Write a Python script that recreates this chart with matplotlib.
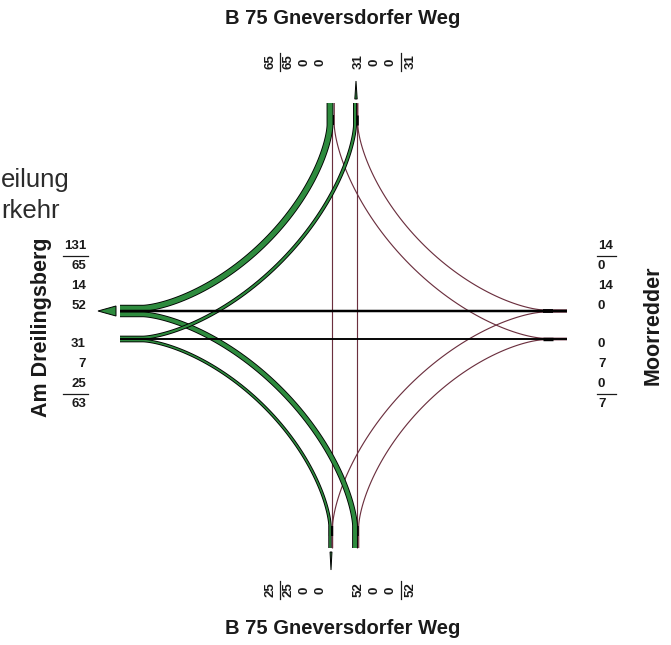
import numpy as np
import matplotlib.pyplot as plt

plt.rcParams['font.family'] = ['Liberation Sans', 'DejaVu Sans']

# Knotenstroeme [Kfz]: von -> nach  (W = Am Dreilingsberg, O = Moorredder, N/S = B 75)
flow_from = ['N', 'O', 'S', 'W', 'W', 'W', 'N', 'N', 'S', 'S', 'O', 'O']
flow_to = ['W', 'W', 'W', 'N', 'O', 'S', 'S', 'O', 'N', 'O', 'N', 'S']
flow_val = [65, 14, 52, 31, 7, 25, 0, 0, 0, 0, 0, 0]

title_ns = 'B 75 Gneversdorfer Weg'
name_w = 'Am Dreilingsberg'
name_o = 'Moorredder'
header_lines = ['eilung', 'rkehr']   # visible remainder of the cut-off heading

# lane geometry in canvas pixels: kind, lane position, outer end, inner end of stub
LANE = {
    ('W', 'out'): ('h', 311, 120, 143),
    ('W', 'in'): ('h', 339, 120, 143),
    ('O', 'in'): ('h', 311, 567, 543),
    ('O', 'out'): ('h', 339, 567, 543),
    ('N', 'in'): ('v', 331, 103, 125),
    ('N', 'out'): ('v', 356, 103, 125),
    ('S', 'out'): ('v', 331, 548, 526),
    ('S', 'in'): ('v', 356, 548, 526),
}
# partner arms across each lane (top->bottom or left->right)
ORDER = {'W': ['N', 'O', 'S'], 'O': ['N', 'W', 'S'],
         'N': ['W', 'S', 'O'], 'S': ['W', 'N', 'O']}

SCALE = 0.085   # px per Kfz
ZERO_W = 1.0
PT = 0.72       # px -> pt at 100 dpi
GREEN = '#2e8b3e'
ZERO_C = '#6b2f3e'

vol = {(a, b): v for a, b, v in zip(flow_from, flow_to, flow_val)}


def wpx(v):
    return v * SCALE if v > 0 else ZERO_W


def lane_flows(arm, d):
    return [vol.get((arm, p) if d == 'in' else (p, arm), 0) for p in ORDER[arm]]


offs = {}
band = {}
for (arm, d) in LANE:
    ws = [wpx(v) for v in lane_flows(arm, d)]
    tot = sum(ws)
    band[(arm, d)] = tot
    acc = -tot / 2
    for p, w in zip(ORDER[arm], ws):
        offs[(arm, d, p)] = acc + w / 2
        acc += w


def pt(lane, o, along):
    kind, pos = LANE[lane][0], LANE[lane][1]
    return (along, pos + o) if kind == 'h' else (pos + o, along)


def flow_path(a, b):
    l1, l2 = (a, 'in'), (b, 'out')
    o1, o2 = offs[(a, 'in', b)], offs[(b, 'out', a)]
    if LANE[l1][0] == LANE[l2][0]:
        # straight through: keep it parallel to the lane
        om = (o1 + o2) / 2
        return np.array([pt(l1, om, LANE[l1][2]), pt(l2, om, LANE[l2][2])])
    if LANE[l1][0] == 'h':
        (lh, oh), (lv, ov) = (l1, o1), (l2, o2)
    else:
        (lh, oh), (lv, ov) = (l2, o2), (l1, o1)
    A = pt(lh, oh, LANE[lh][3])
    B = pt(lv, ov, LANE[lv][3])
    C = (B[0], A[1])
    t = np.linspace(0, np.pi / 2, 80)
    xs = C[0] + (A[0] - C[0]) * np.cos(t) ** 3
    ys = C[1] + (B[1] - C[1]) * np.sin(t) ** 3
    pts = [pt(lh, oh, LANE[lh][2])] + list(zip(xs, ys)) + [pt(lv, ov, LANE[lv][2])]
    return np.array(pts)


fig = plt.figure(figsize=(6.71, 6.45), dpi=100)
ax = fig.add_axes([0, 0, 1, 1])
ax.set_xlim(0, 671)
ax.set_ylim(645, 0)
ax.axis('off')

# zero flows first
for a, b, v in zip(flow_from, flow_to, flow_val):
    if v == 0:
        p = flow_path(a, b)
        ax.plot(p[:, 0], p[:, 1], color=ZERO_C, lw=1.15 * PT, solid_capstyle='butt', zorder=2)

# stub markers
for lane, (kind, pos, end, inner) in LANE.items():
    if sum(lane_flows(*lane)) == 0:
        continue
    step = 10 if end > inner else -10
    lw = (0.55 * band[lane] + 2) * PT
    if kind == 'h':
        ax.plot([inner, inner + step], [pos, pos], color='black', lw=lw, solid_capstyle='butt', zorder=3)
    else:
        ax.plot([pos, pos], [inner, inner + step], color='black', lw=lw, solid_capstyle='butt', zorder=3)

order_idx = np.argsort(flow_val)[::-1]
for i in order_idx:
    a, b, v = flow_from[i], flow_to[i], flow_val[i]
    if v == 0:
        continue
    p = flow_path(a, b)
    w = wpx(v)
    ax.plot(p[:, 0], p[:, 1], color='black', lw=(w + 1.3) * PT,
            solid_capstyle='butt', solid_joinstyle='round', zorder=4)
    if w > 1.5:
        ax.plot(p[:, 0], p[:, 1], color=GREEN, lw=(w - 0.5) * PT,
                solid_capstyle='butt', solid_joinstyle='round', zorder=4)

# exit arrows
for lane, (kind, pos, end, inner) in LANE.items():
    if lane[1] != 'out':
        continue
    tot = sum(lane_flows(*lane))
    if tot < 10:
        continue
    hw = 0.45 * tot * SCALE
    sgn = 1 if end > inner else -1
    base = end + sgn * 4
    tip = base + sgn * 18
    if kind == 'h':
        tri = [(base, pos - hw), (base, pos + hw), (tip, pos)]
    else:
        tri = [(pos - hw, base), (pos + hw, base), (pos, tip)]
    ax.add_patch(plt.Polygon(tri, closed=True, facecolor=GREEN, edgecolor='black', lw=0.7, zorder=5))

# volume labels
num_kw = dict(fontsize=9.5, fontweight='bold', color='#1a1a1a')


def label_block(arm, d, first):
    vals = lane_flows(arm, d)
    tot = sum(vals)
    if first:
        return [tot, None] + vals
    return vals + [None, tot]


side_pos = {'W': (86, 'right', 63, 88), 'O': (598, 'left', 597, 616)}
for arm, (x, ha, r0, r1) in side_pos.items():
    lanes = [(arm, 'out'), (arm, 'in')] if arm == 'W' else [(arm, 'in'), (arm, 'out')]
    ys_first = [246, 256, 266, 286, 306]
    ys_second = [344, 364, 384, 394, 404]
    for lane, ys, first in zip(lanes, [ys_first, ys_second], [True, False]):
        for y, val in zip(ys, label_block(*lane, first)):
            if val is None:
                ax.plot([r0, r1], [y, y], color='#1a1a1a', lw=0.9)
            else:
                ax.text(x, y, str(val), ha=ha, va='center', **num_kw)

top_pos = {'N': (62, 53, 71), 'S': (590, 581, 599)}
for arm, (y, q0, q1) in top_pos.items():
    lanes = [(arm, 'in'), (arm, 'out')] if arm == 'N' else [(arm, 'out'), (arm, 'in')]
    xs_first = [270, 280, 289, 305, 321]
    xs_second = [359, 375, 391, 401, 411]
    for lane, xs, first in zip(lanes, [xs_first, xs_second], [True, False]):
        for x, val in zip(xs, label_block(*lane, first)):
            if val is None:
                ax.plot([x, x], [q0, q1], color='#1a1a1a', lw=0.9)
            else:
                ax.text(x, y, str(val), ha='center', va='center', rotation=90, **num_kw)

# arm names
ax.text(343, 18, title_ns, ha='center', va='center', fontsize=14.5, fontweight='bold', color='#1a1a1a')
ax.text(343, 628, title_ns, ha='center', va='center', fontsize=14.5, fontweight='bold', color='#1a1a1a')
ax.text(42, 327, name_w, ha='center', va='center', rotation=90, fontsize=15.5, fontweight='bold', color='#1a1a1a')
ax.text(653, 325, name_o, ha='center', va='center', rotation=90, fontsize=15.5, fontweight='bold', color='#1a1a1a')

# heading remainder at the left edge
ax.text(1, 187, header_lines[0], ha='left', va='baseline', fontsize=18.5, color='#2b2b2b')
ax.text(1, 218, header_lines[1], ha='left', va='baseline', fontsize=18.5, color='#2b2b2b')

fig.savefig('out.png', dpi=100)
